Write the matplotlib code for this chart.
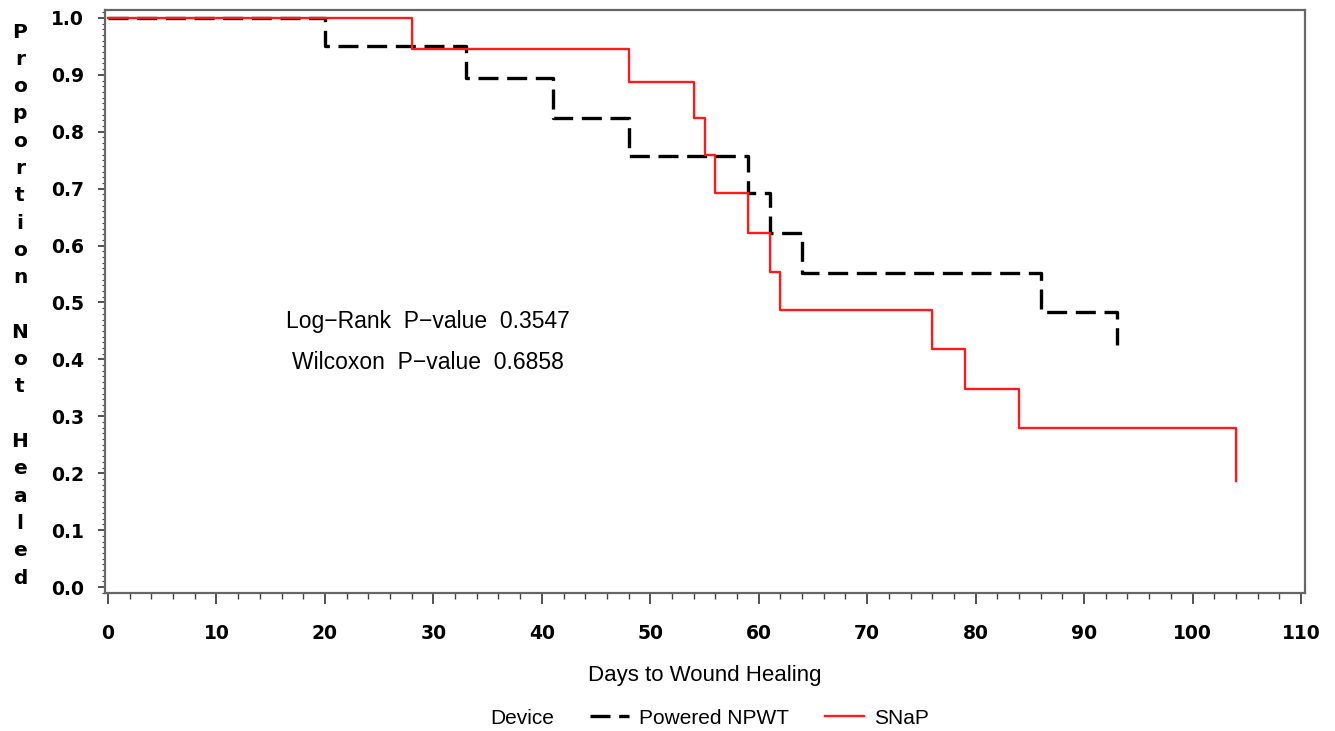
import matplotlib
matplotlib.use("Agg")
import matplotlib.pyplot as plt
from matplotlib.ticker import MultipleLocator

# ---- data ----
npwt_days = [0, 20, 33, 41, 48, 59, 61, 64, 86, 93]
npwt_prop = [1.0, 0.950, 0.895, 0.825, 0.757, 0.692, 0.622, 0.551, 0.483, 0.425]
snap_days = [0, 28, 48, 54, 55, 56, 59, 61, 62, 76, 79, 84, 104]
snap_prop = [1.0, 0.945, 0.888, 0.825, 0.759, 0.693, 0.623, 0.554, 0.487, 0.418, 0.348, 0.279, 0.186]
series_names = ["Powered NPWT", "SNaP"]
x_ticks = list(range(0, 111, 10))
y_ticks = [round(0.1 * i, 1) for i in range(11)]
annotations = ["Log\u2212Rank  P\u2212value  0.3547", "Wilcoxon  P\u2212value  0.6858"]
x_label = "Days to Wound Healing"
y_label = "Proportion Not Healed"
legend_title = "Device"

W, H = 1335, 731
fig = plt.figure(figsize=(W / 100, H / 100), dpi=100)
ax = fig.add_axes([105 / W, 1 - 593 / H, 1200 / W, 583 / H])

l1, = ax.step(npwt_days, npwt_prop, where="post", color="black", lw=2.4,
              linestyle=(0, (6.0, 2.6)), label=series_names[0])
l2, = ax.step(snap_days, snap_prop, where="post", color="#ff1a1a", lw=1.7,
              label=series_names[1])

ax.set_xlim(-0.28, 110.37)
ax.set_ylim(-0.0105, 1.014)
ax.set_xticks(x_ticks)
ax.set_yticks(y_ticks)
ax.set_yticklabels([f"{v:.1f}" for v in y_ticks])
ax.xaxis.set_minor_locator(MultipleLocator(2))
ax.yaxis.set_minor_locator(MultipleLocator(0.01))

for lab in ax.get_xticklabels() + ax.get_yticklabels():
    lab.set_fontfamily("DejaVu Sans")
    lab.set_fontweight("bold")
    lab.set_fontsize(13.5)
ax.tick_params(axis="x", which="major", length=8, width=1.3, pad=14, colors="#444444", labelcolor="black")
ax.tick_params(axis="x", which="minor", length=4, width=1.0, colors="#444444")
ax.tick_params(axis="y", which="major", length=5, width=1.3, pad=10, colors="#444444", labelcolor="black")
ax.tick_params(axis="y", which="minor", length=2.5, width=0.8, colors="#444444")
for s in ax.spines.values():
    s.set_color("#666666")
    s.set_linewidth(1.6)

ax.set_xlabel(x_label, fontsize=16, family="Liberation Sans", labelpad=16)

ax.text(29.5, 0.466, annotations[0], ha="center", va="center", fontsize=16.5,
        family="Liberation Sans")
ax.text(29.5, 0.395, annotations[1], ha="center", va="center", fontsize=16.5,
        family="Liberation Sans")

# stacked y label
y0, dy = 32, 27.3
for i, ch in enumerate(y_label):
    if ch == " ":
        continue
    fig.text(20 / W, 1 - (y0 + i * dy) / H, ch, ha="center", va="center",
             fontsize=14.5, fontweight="bold", family="DejaVu Sans")

# legend
fig.text(490 / W, 1 - 718 / H, legend_title, ha="left", va="center", fontsize=15,
         family="Liberation Sans")
leg = fig.legend(handles=[l1, l2], labels=series_names, loc="center left",
                 bbox_to_anchor=(590 / W, 1 - 718 / H), ncol=2, frameon=False,
                 prop={"family": "Liberation Sans", "size": 15},
                 handlelength=1.85, handletextpad=0.5, columnspacing=1.75,
                 borderpad=0, borderaxespad=0)

fig.savefig("out.png", dpi=100)
